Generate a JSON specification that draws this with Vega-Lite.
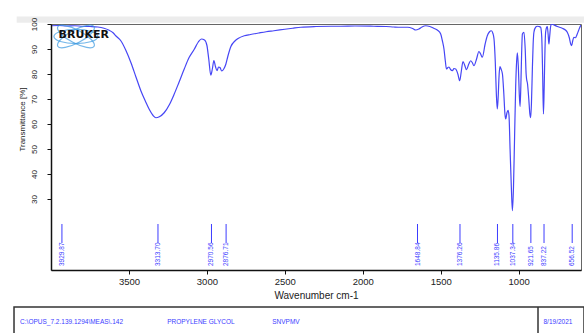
{
  "$schema": "https://vega.github.io/schema/vega-lite/v6.json",
  "background": "white",
  "padding": {"left": 13, "top": 15, "right": 0, "bottom": 0},
  "spacing": 5,
  "config": {
    "font": "Liberation Sans",
    "view": {"stroke": "#666", "strokeWidth": 1},
    "axisY": {"labelOverlap": false}
  },
  "datasets": {
    "spectrum": [
      {"wn": 4000, "t": 99.3}, {"wn": 3950, "t": 99.4}, {"wn": 3900, "t": 99.2}, {"wn": 3850, "t": 99.3},
      {"wn": 3800, "t": 99.1}, {"wn": 3750, "t": 99.0}, {"wn": 3700, "t": 98.8}, {"wn": 3660, "t": 98.3},
      {"wn": 3630, "t": 97.6}, {"wn": 3600, "t": 96.4}, {"wn": 3583, "t": 95.2}, {"wn": 3551, "t": 93.2},
      {"wn": 3520, "t": 89.5}, {"wn": 3487, "t": 84.5}, {"wn": 3455, "t": 78.8}, {"wn": 3423, "t": 73.2},
      {"wn": 3395, "t": 69.2}, {"wn": 3370, "t": 65.9}, {"wn": 3345, "t": 63.4}, {"wn": 3327, "t": 62.5},
      {"wn": 3305, "t": 62.9}, {"wn": 3274, "t": 64.5}, {"wn": 3240, "t": 67.8}, {"wn": 3210, "t": 71.9},
      {"wn": 3180, "t": 76.5}, {"wn": 3146, "t": 81.9}, {"wn": 3115, "t": 86.5}, {"wn": 3081, "t": 89.9},
      {"wn": 3055, "t": 92.8}, {"wn": 3035, "t": 94.0}, {"wn": 3015, "t": 93.6}, {"wn": 3000, "t": 91.5},
      {"wn": 2988, "t": 86.0}, {"wn": 2975, "t": 79.5}, {"wn": 2965, "t": 82.0}, {"wn": 2955, "t": 85.4},
      {"wn": 2945, "t": 83.0}, {"wn": 2935, "t": 81.3}, {"wn": 2925, "t": 82.8}, {"wn": 2915, "t": 82.5},
      {"wn": 2905, "t": 81.2}, {"wn": 2890, "t": 82.2}, {"wn": 2878, "t": 84.0}, {"wn": 2865, "t": 87.2},
      {"wn": 2846, "t": 91.0}, {"wn": 2820, "t": 93.2}, {"wn": 2800, "t": 94.2}, {"wn": 2760, "t": 95.3},
      {"wn": 2720, "t": 95.8}, {"wn": 2667, "t": 96.4}, {"wn": 2620, "t": 96.9}, {"wn": 2570, "t": 97.3},
      {"wn": 2500, "t": 97.9}, {"wn": 2450, "t": 98.3}, {"wn": 2397, "t": 98.7}, {"wn": 2300, "t": 99.0},
      {"wn": 2200, "t": 99.1}, {"wn": 2141, "t": 99.1}, {"wn": 2050, "t": 99.2}, {"wn": 1929, "t": 99.1},
      {"wn": 1850, "t": 99.0}, {"wn": 1800, "t": 98.8}, {"wn": 1756, "t": 98.7}, {"wn": 1712, "t": 98.7},
      {"wn": 1680, "t": 98.2}, {"wn": 1660, "t": 97.6}, {"wn": 1640, "t": 98.0}, {"wn": 1620, "t": 98.8},
      {"wn": 1596, "t": 99.3}, {"wn": 1570, "t": 99.0}, {"wn": 1545, "t": 98.3}, {"wn": 1520, "t": 97.5},
      {"wn": 1500, "t": 96.0}, {"wn": 1490, "t": 93.5}, {"wn": 1479, "t": 90.0}, {"wn": 1470, "t": 85.0},
      {"wn": 1463, "t": 82.0}, {"wn": 1455, "t": 82.5}, {"wn": 1447, "t": 82.8}, {"wn": 1437, "t": 81.8},
      {"wn": 1425, "t": 81.3}, {"wn": 1415, "t": 82.2}, {"wn": 1404, "t": 82.0}, {"wn": 1390, "t": 80.0},
      {"wn": 1378, "t": 77.3}, {"wn": 1368, "t": 81.0}, {"wn": 1357, "t": 85.0}, {"wn": 1346, "t": 83.5},
      {"wn": 1335, "t": 81.7}, {"wn": 1320, "t": 84.0}, {"wn": 1308, "t": 85.3}, {"wn": 1297, "t": 84.5},
      {"wn": 1287, "t": 83.3}, {"wn": 1270, "t": 86.0}, {"wn": 1255, "t": 89.0}, {"wn": 1244, "t": 88.0},
      {"wn": 1233, "t": 86.7}, {"wn": 1215, "t": 92.0}, {"wn": 1201, "t": 95.3}, {"wn": 1188, "t": 96.8},
      {"wn": 1175, "t": 97.3}, {"wn": 1165, "t": 96.2}, {"wn": 1158, "t": 94.0}, {"wn": 1150, "t": 85.0},
      {"wn": 1143, "t": 72.0}, {"wn": 1137, "t": 66.0}, {"wn": 1132, "t": 70.0}, {"wn": 1125, "t": 80.0},
      {"wn": 1120, "t": 83.0}, {"wn": 1113, "t": 82.0}, {"wn": 1104, "t": 80.0}, {"wn": 1095, "t": 72.0},
      {"wn": 1088, "t": 64.0}, {"wn": 1083, "t": 62.0}, {"wn": 1075, "t": 64.5}, {"wn": 1068, "t": 65.5},
      {"wn": 1062, "t": 63.5}, {"wn": 1055, "t": 50.0}, {"wn": 1047, "t": 35.0}, {"wn": 1040, "t": 25.3},
      {"wn": 1033, "t": 35.0}, {"wn": 1026, "t": 55.0}, {"wn": 1019, "t": 75.0}, {"wn": 1013, "t": 85.0},
      {"wn": 1008, "t": 88.5}, {"wn": 1002, "t": 83.0}, {"wn": 996, "t": 72.0}, {"wn": 991, "t": 67.0},
      {"wn": 986, "t": 75.0}, {"wn": 981, "t": 88.0}, {"wn": 976, "t": 96.0}, {"wn": 966, "t": 96.7},
      {"wn": 958, "t": 90.0}, {"wn": 952, "t": 80.0}, {"wn": 949, "t": 78.0}, {"wn": 943, "t": 76.0},
      {"wn": 935, "t": 70.0}, {"wn": 928, "t": 64.0}, {"wn": 923, "t": 62.5}, {"wn": 918, "t": 68.0},
      {"wn": 912, "t": 82.0}, {"wn": 907, "t": 92.0}, {"wn": 902, "t": 96.7}, {"wn": 890, "t": 98.8},
      {"wn": 880, "t": 99.1}, {"wn": 870, "t": 99.0}, {"wn": 859, "t": 98.7}, {"wn": 852, "t": 95.0},
      {"wn": 846, "t": 80.0}, {"wn": 841, "t": 64.0}, {"wn": 836, "t": 75.0}, {"wn": 831, "t": 90.0},
      {"wn": 827, "t": 96.7}, {"wn": 821, "t": 98.6}, {"wn": 816, "t": 99.0}, {"wn": 811, "t": 96.0},
      {"wn": 806, "t": 92.0}, {"wn": 801, "t": 95.0}, {"wn": 796, "t": 98.5}, {"wn": 790, "t": 100.0},
      {"wn": 780, "t": 99.8}, {"wn": 752, "t": 99.0}, {"wn": 720, "t": 98.3}, {"wn": 700, "t": 97.6},
      {"wn": 688, "t": 96.7}, {"wn": 675, "t": 94.5}, {"wn": 666, "t": 92.0}, {"wn": 660, "t": 91.3},
      {"wn": 653, "t": 93.3}, {"wn": 646, "t": 94.7}, {"wn": 636, "t": 94.5}, {"wn": 624, "t": 96.0},
      {"wn": 615, "t": 97.5}, {"wn": 603, "t": 99.3}, {"wn": 600, "t": 99.6}
    ],
    "peaks": [
      {"wn": 3929.87, "label": "3929.87"}, {"wn": 3313.70, "label": "3313.70"},
      {"wn": 2970.56, "label": "2970.56"}, {"wn": 2876.71, "label": "2876.71"},
      {"wn": 1648.84, "label": "1648.84"}, {"wn": 1376.26, "label": "1376.26"},
      {"wn": 1135.86, "label": "1135.86"}, {"wn": 1037.34, "label": "1037.34"},
      {"wn": 921.65, "label": "921.65"}, {"wn": 837.22, "label": "837.22"},
      {"wn": 656.52, "label": "656.52"}
    ],
    "footer": [
      {"pos": -0.058, "text": "C:\\OPUS_7.2.139.1294\\MEAS\\.142"},
      {"pos": 0.218, "text": "PROPYLENE GLYCOL"},
      {"pos": 0.415, "text": "SNVPMV"},
      {"pos": 0.924, "text": "8/19/2021"}
    ],
    "one": [{}]
  },
  "vconcat": [
    {
      "width": 530,
      "height": 246,
      "encoding": {
        "x": {
          "type": "quantitative",
          "scale": {"domain": [600, 4000], "reverse": true, "nice": false, "zero": false},
          "axis": {
            "values": [3500, 3000, 2500, 2000, 1500, 1000], "format": "d", "grid": false,
            "title": "Wavenumber cm-1", "titleFontSize": 10, "titleFontWeight": "normal",
            "titleColor": "#222", "titlePadding": 5,
            "labelFontSize": 9.5, "labelColor": "#222", "labelPadding": 2,
            "domainColor": "#111", "domainWidth": 1.5, "tickColor": "#111", "tickSize": 4
          }
        },
        "y": {
          "type": "quantitative",
          "scale": {"domain": [1.6, 100], "nice": false, "zero": false},
          "axis": {
            "values": [30, 40, 50, 60, 70, 80, 90, 100], "grid": false, "zindex": 1,
            "title": "Transmittance [%]", "titleFontSize": 8, "titleFontWeight": "normal",
            "titleColor": "#222", "titleY": 95, "titleX": -25,
            "labelAngle": 270, "labelFontSize": 8, "labelColor": "#222", "labelPadding": 9,
            "labelOverlap": false,
            "domainColor": "#111", "domainWidth": 1.5, "tickColor": "#111", "tickSize": 4
          }
        }
      },
      "layer": [
        {
          "data": {"name": "one"},
          "mark": {"type": "rect", "fill": "#ececec", "clip": false},
          "encoding": {"x": {"datum": 4220}, "x2": {"datum": 572}, "y": {"datum": 100.5}, "y2": {"datum": 103}}
        },
        {
          "data": {"name": "spectrum"},
          "mark": {"type": "line", "color": "#4646f5", "strokeWidth": 1.2, "interpolate": "monotone", "clip": true},
          "encoding": {
            "x": {"field": "wn", "type": "quantitative"},
            "y": {"field": "t", "type": "quantitative"}
          }
        },
        {
          "data": {"name": "peaks"},
          "mark": {"type": "rule", "color": "#3c3cff", "strokeWidth": 1},
          "encoding": {
            "x": {"field": "wn", "type": "quantitative"},
            "y": {"datum": 20},
            "y2": {"datum": 12.4}
          }
        },
        {
          "data": {"name": "peaks"},
          "mark": {"type": "text", "color": "#3c3cff", "fontSize": 6.5, "angle": 270, "align": "left", "baseline": "middle"},
          "encoding": {
            "x": {"field": "wn", "type": "quantitative"},
            "y": {"datum": 3.2},
            "text": {"field": "label"}
          }
        },
        {
          "data": {"name": "one"},
          "mark": {"type": "point", "shape": "M -1 0 A 1 0.32 0 1 1 1 0 A 1 0.32 0 1 1 -1 0 Z", "filled": false, "stroke": "#3b9ae1", "strokeWidth": 1.2, "size": 1936},
          "encoding": {"x": {"datum": 3840}, "y": {"datum": 95}}
        },
        {
          "data": {"name": "one"},
          "mark": {"type": "point", "shape": "M -1 0 A 1 0.32 0 1 1 1 0 A 1 0.32 0 1 1 -1 0 Z", "filled": false, "stroke": "#3b9ae1", "strokeWidth": 1.2, "size": 1700, "angle": 28},
          "encoding": {"x": {"datum": 3840}, "y": {"datum": 95}}
        },
        {
          "data": {"name": "one"},
          "mark": {"type": "point", "shape": "M -1 0 A 1 0.32 0 1 1 1 0 A 1 0.32 0 1 1 -1 0 Z", "filled": false, "stroke": "#3b9ae1", "strokeWidth": 1.2, "size": 1700, "angle": -28},
          "encoding": {"x": {"datum": 3840}, "y": {"datum": 95}}
        },
        {
          "data": {"name": "one"},
          "mark": {"type": "text", "text": "BRUKER", "font": "DejaVu Sans", "fontWeight": "bold", "fontSize": 11, "color": "#111", "align": "center", "baseline": "middle"},
          "encoding": {"x": {"datum": 3790}, "y": {"datum": 95.6}}
        }
      ]
    },
    {
      "width": 533,
      "height": 30,
      "view": {"stroke": null},
      "encoding": {
        "x": {"type": "quantitative", "scale": {"domain": [0, 1], "nice": false, "zero": false}, "axis": null},
        "y": {"type": "quantitative", "scale": {"domain": [0, 1]}, "axis": null}
      },
      "layer": [
        {
          "data": {"name": "one"},
          "mark": {"type": "rect", "fill": null, "stroke": "#333", "strokeWidth": 1.5, "clip": false},
          "encoding": {"x": {"datum": -0.0694}, "x2": {"datum": 1}, "y": {"datum": 0}, "y2": {"datum": 1}}
        },
        {
          "data": {"name": "footer"},
          "mark": {"type": "text", "color": "#3c3cff", "fontSize": 6.5, "align": "left", "baseline": "middle", "clip": false},
          "encoding": {
            "x": {"field": "pos"},
            "y": {"datum": 0.5},
            "text": {"field": "text"}
          }
        },
        {
          "data": {"name": "one"},
          "mark": {"type": "rule", "color": "#333", "strokeWidth": 1.5},
          "encoding": {"x": {"datum": 0.9137}}
        }
      ]
    }
  ]
}
